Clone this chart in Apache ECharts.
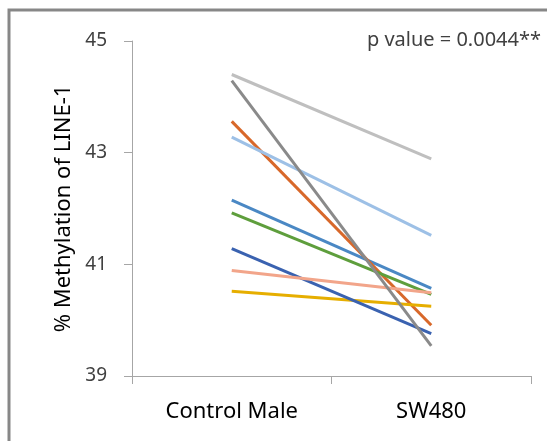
<!DOCTYPE html>
<html>
<head>
<meta charset="utf-8">
<script src="https://cdn.jsdelivr.net/npm/echarts@6/dist/echarts.min.js"></script>
<style>
  html, body { margin: 0; padding: 0; background: #fff; }
  #chart { width: 547px; height: 441px; }
</style>
</head>
<body>
<div id="chart"></div>
<script>
// data
const categories = ['Control Male', 'SW480']
const controlMale = [42.15, 43.56, 44.40, 40.52, 41.28, 41.92, 43.28, 40.89, 44.29]
const sw480 = [40.57, 39.91, 42.89, 40.25, 39.76, 40.46, 41.52, 40.49, 39.54]
const lineColors = ['#4a88c4', '#d8682a', '#bfbfbf', '#e6ae00', '#3a62b0', '#5e9e3c', '#9dc0e6', '#f2a58a', '#8a8a8a']
const yTicks = [39, 41, 43, 45]

function draw(){
    let box = document.querySelector('#chart')
    let myChart = echarts.init(box)
    let font = '"Noto Sans", sans-serif'

    // one line per sample, Control Male -> SW480
    let series = controlMale.map(function(v, i){
        return {
            type: 'line',
            data: [v, sw480[i]],
            symbol: 'none',
            lineStyle: { color: lineColors[i], width: 3 },
            silent: true
        }
    })

    let option = {
        animation: false,
        grid: { left: 132, right: 16, top: 41, bottom: 65 },
        xAxis: {
            type: 'category',
            data: categories,
            boundaryGap: true,
            axisLine: { lineStyle: { color: '#a6a6a6', width: 1 } },
            axisTick: { show: true, length: 8, lineStyle: { color: '#a6a6a6' } },
            axisLabel: { color: '#000', fontSize: 22, fontFamily: font, margin: 25 }
        },
        yAxis: {
            type: 'value',
            min: yTicks[0],
            max: yTicks[yTicks.length - 1],
            interval: 2,
            name: '% Methylation of LINE-1',
            nameLocation: 'middle',
            nameGap: 56,
            nameTextStyle: { color: '#000', fontSize: 22, fontFamily: font },
            axisLine: { show: true, lineStyle: { color: '#a6a6a6', width: 1 } },
            axisTick: { show: true, length: 8, lineStyle: { color: '#a6a6a6' } },
            axisLabel: { color: '#404040', fontSize: 19, fontFamily: font, margin: 25 },
            splitLine: { show: false }
        },
        graphic: [
            {
                type: 'rect',
                shape: { x: 9, y: 10, width: 600, height: 500 },
                style: { fill: 'none', stroke: '#878787', lineWidth: 3 },
                silent: true
            },
            {
                type: 'text',
                right: 6,
                top: 30,
                style: { text: 'p value = 0.0044**', fill: '#404040', fontSize: 20, fontFamily: font }
            }
        ],
        series: series
    }
    myChart.setOption(option)
}
draw()
</script>
</body>
</html>
